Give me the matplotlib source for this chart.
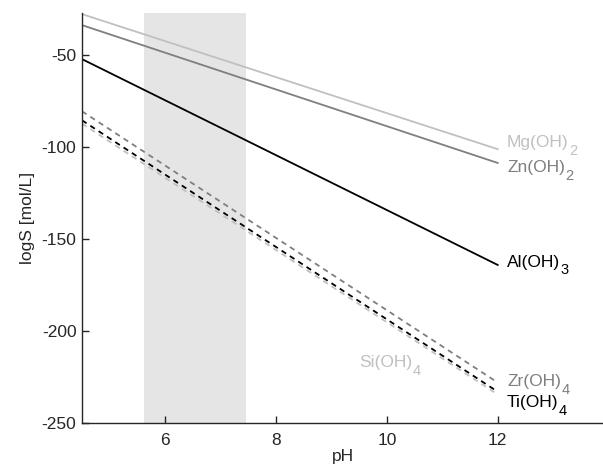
# Imports #
import matplotlib
matplotlib.use("Agg")
from matplotlib import pyplot as plt

plt.rcParams['font.family'] = ['Liberation Sans', 'DejaVu Sans']
plt.rcParams['axes.unicode_minus'] = False

# Data #
ph = [4.5, 12.0]
mg_oh2 = [-27.5, -101.0]
zn_oh2 = [-33.5, -108.5]
al_oh3 = [-52.0, -164.0]
zr_oh4 = [-80.4, -228.0]
ti_oh4 = [-85.3, -233.0]
si_oh4 = [-87.1, -234.5]

shade_ph = [5.62, 7.46]

solid_lines = [
    (mg_oh2, '#c0c0c0'),
    (zn_oh2, '#7f7f7f'),
    (al_oh3, 'black'),
]
dashed_lines = [
    (zr_oh4, '#7f7f7f'),
    (ti_oh4, 'black'),
    (si_oh4, '#c0c0c0'),
]

# (base text, subscript, colour, pH, logS)
labels = [
    ('Mg(OH)', '2', '#c0c0c0', 12.17, -97.5),
    ('Zn(OH)', '2', '#7f7f7f', 12.17, -111.0),
    ('Al(OH)', '3', 'black', 12.17, -162.5),
    ('Zr(OH)', '4', '#7f7f7f', 12.17, -227.5),
    ('Ti(OH)', '4', 'black', 12.17, -239.0),
    ('Si(OH)', '4', '#c0c0c0', 9.5, -217.0),
]


def chem_label(ax, base, sub, color, x, y):
    """
    Write a formula with a MATLAB-like subscript (large and low).
    """
    t = ax.text(x, y, base, color=color, fontsize=12.5, va='center', ha='left')
    ax.annotate(sub, xy=(1, 0), xycoords=t, xytext=(0.2, -0.5),
                textcoords='offset points', color=color, fontsize=10.5,
                va='center', ha='left')


def plot():
    fig = plt.figure(figsize=(6.03, 4.71), dpi=100)
    ax = fig.add_axes([0.136, 0.102, 0.864, 0.870])

    # Shaded pH window
    ax.axvspan(shade_ph[0], shade_ph[1], color='#e5e5e5', lw=0, zorder=0)

    for values, color in solid_lines:
        ax.plot(ph, values, color=color, lw=1.3)

    for values, color in dashed_lines:
        ax.plot(ph, values, color=color, lw=1.3, ls=(0, (3.0, 2.5)))

    for base, sub, color, x, y in labels:
        chem_label(ax, base, sub, color, x, y)

    ax.set_xlim(4.5, 13.9)
    ax.set_ylim(-250, -27)
    ax.set_xticks([6, 8, 10, 12])
    ax.set_yticks([-250, -200, -150, -100, -50])

    ax.spines['top'].set_visible(False)
    ax.spines['right'].set_visible(False)
    for side in ['left', 'bottom']:
        ax.spines[side].set_color('#262626')
        ax.spines[side].set_linewidth(1.0)
    ax.tick_params(direction='in', length=5, width=1.0, colors='#262626',
                   labelsize=12.5, labelcolor='#262626')
    ax.tick_params(axis='x', pad=7)
    ax.tick_params(axis='y', pad=4)

    ax.set_xlabel('pH', fontsize=12.5, color='#262626', labelpad=1)
    ax.set_ylabel('logS [mol/L]', fontsize=12.5, color='#262626', labelpad=5)

    fig.savefig('out.png', dpi=100)


plot()
